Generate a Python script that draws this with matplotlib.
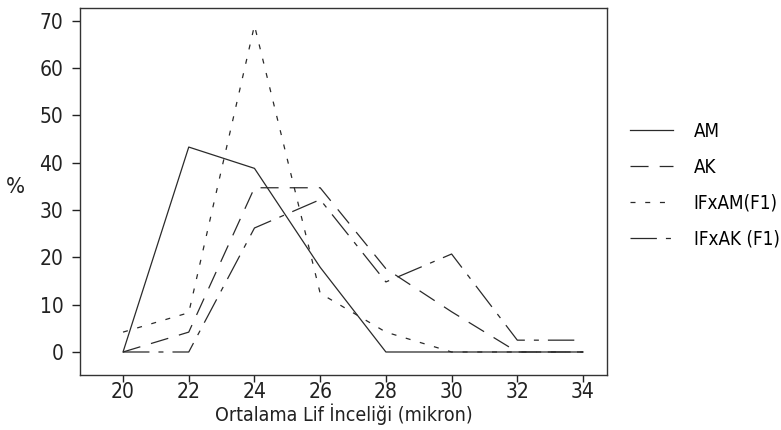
import matplotlib
matplotlib.use("Agg")
import matplotlib.pyplot as plt
from matplotlib import font_manager as fm

# veriler: ortalama lif inceligi (mikron) ve yuzde dagilimlar
mikron = [20, 22, 24, 26, 28, 30, 32, 34]
am = [0, 43.3, 38.8, 17.9, 0, 0, 0, 0]
ak = [0, 4.2, 34.7, 34.7, 17.6, 8.5, 0, 0]
ifxam = [4.2, 8.3, 69, 12.4, 4.2, 0, 0, 0]
ifxak = [0, 0, 26.2, 32.2, 14.8, 20.7, 2.5, 2.5]
etiketler = ["AM", "AK", "IFxAM(F1)", "IFxAK (F1)"]

# dar bir yazi tipi bul (varsa)
aday = []
for f in fm.fontManager.ttflist:
    ad = (f.name + " " + str(f.stretch)).lower()
    if ('narrow' in ad or 'condensed' in ad) and f.style == 'normal' and f.weight in (400, 'normal', 'regular'):
        aday.append(f)
aday.sort(key=lambda f: (0 if 'dejavu' in f.name.lower() else 1 if 'liberation' in f.name.lower() else 2))
if aday:
    yol = aday[0].fname
else:
    yol = fm.findfont('Roboto')

def fp(boy):
    return fm.FontProperties(fname=yol, size=boy)

plt.rcParams['lines.scale_dashes'] = False

fig = plt.figure(figsize=(7.81, 4.30), dpi=100)
ax = fig.add_axes([80/781, 1-375/430, 527/781, 367/430])

renk = '#2a2a2a'
lw = 0.9
ax.plot(mikron, am, color=renk, lw=lw, label=etiketler[0])
ax.plot(mikron, ak, color=renk, lw=lw, dashes=[13, 8], label=etiketler[1])
ax.plot(mikron, ifxam, color=renk, lw=lw, dashes=[3.6, 7], label=etiketler[2])
ax.plot(mikron, ifxak, color=renk, lw=lw, dashes=[19, 6.5, 3.6, 6.5], label=etiketler[3])

ax.set_xlim(18.69, 34.73)
ax.set_ylim(-4.86, 72.68)
ax.set_xticks(mikron)
ax.set_yticks(range(0, 71, 10))
ax.tick_params(axis='both', direction='out', colors='#222222')
ax.tick_params(axis='y', length=6, width=1, pad=6)
ax.tick_params(axis='x', length=5, width=1, pad=0)
for lab in ax.get_xticklabels() + ax.get_yticklabels():
    lab.set_fontproperties(fp(15))
for s in ax.spines.values():
    s.set_color('#333333')
    s.set_linewidth(1)

ax.set_xlabel("Ortalama Lif İnceliği (mikron)", fontproperties=fp(14), color='#222222', labelpad=1)
fig.text(15/781, 1-187/430, "%", fontproperties=fp(16), color='#222222', ha='center', va='center')

ax.legend(loc='upper left', bbox_to_anchor=(630/781, 1-122/430), bbox_transform=fig.transFigure,
          frameon=False, prop=fp(13.5), handlelength=2.3, handletextpad=1.1,
          labelspacing=0.9, borderaxespad=0, borderpad=0)

fig.savefig("out.png", dpi=100)
